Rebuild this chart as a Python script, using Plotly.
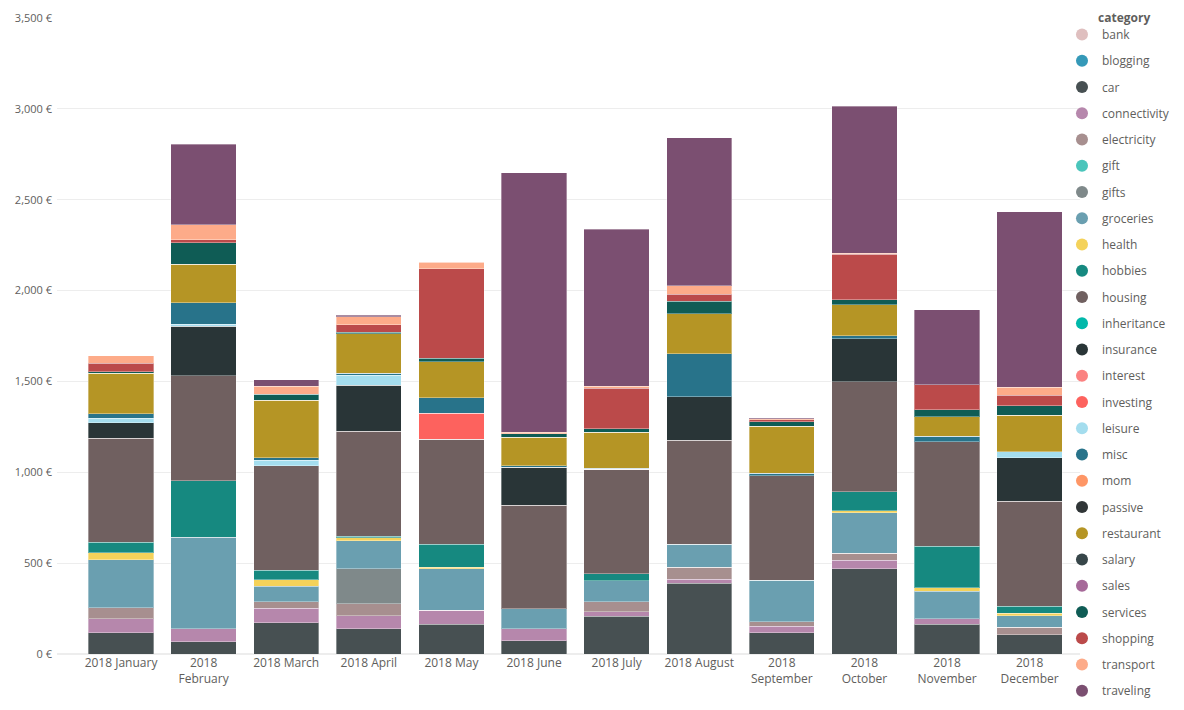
import plotly.graph_objects as go

# monthly spending per category (EUR)
months = ["2018 January", "2018 February", "2018 March", "2018 April", "2018 May", "2018 June",
          "2018 July", "2018 August", "2018 September", "2018 October", "2018 November", "2018 December"]
month_labels = ["2018 January", "2018<br>February", "2018 March", "2018 April", "2018 May", "2018 June",
                "2018 July", "2018 August", "2018<br>September", "2018<br>October", "2018<br>November",
                "2018<br>December"]

zero = [0] * 12
bank = zero
blogging = zero
car = [116, 67, 171, 138, 165, 73, 209, 389, 116, 470, 164, 107]
connectivity = [79, 73, 81, 73, 77, 67, 24, 23, 37, 46, 31, 0]
electricity = [59, 0, 35, 65, 0, 0, 54, 66, 25, 38, 0, 40]
gift = zero
gifts = [0, 0, 0, 194, 0, 0, 0, 0, 0, 0, 0, 0]
groceries = [266, 502, 85, 153, 228, 109, 116, 127, 229, 222, 150, 64]
health = [38, 0, 37, 16, 8, 0, 0, 0, 0, 13, 20, 13]
hobbies = [56, 312, 53, 10, 125, 0, 40, 0, 0, 103, 228, 39]
housing = [573, 576, 575, 576, 578, 570, 575, 571, 573, 606, 575, 578]
inheritance = zero
insurance = [85, 273, 0, 254, 0, 210, 0, 240, 0, 236, 0, 240]
interest = zero
investing = [0, 0, 0, 0, 145, 0, 0, 0, 0, 0, 0, 0]
leisure = [25, 12, 28, 55, 0, 0, 0, 0, 0, 0, 0, 33]
misc = [24, 119, 16, 10, 84, 7, 5, 237, 16, 18, 30, 0]
mom = zero
passive = zero
restaurant = [223, 210, 316, 219, 198, 158, 198, 220, 258, 169, 109, 200]
salary = zero
sales = zero
services = [8, 120, 33, 9, 20, 18, 18, 67, 23, 29, 38, 53]
shopping = [47, 15, 0, 39, 493, 0, 224, 39, 11, 251, 136, 58]
transport = [42, 83, 44, 44, 36, 9, 11, 47, 6, 4, 0, 43]
traveling = [0, 444, 34, 9, 0, 1427, 863, 816, 7, 810, 414, 967]

series = [
    ("bank", bank, "#DFBFBF"),
    ("blogging", blogging, "#3599B8"),
    ("car", car, "#475052"),
    ("connectivity", connectivity, "#B687AC"),
    ("electricity", electricity, "#A78F8F"),
    ("gift", gift, "#4AC5BB"),
    ("gifts", gifts, "#7F898A"),
    ("groceries", groceries, "#6A9FB0"),
    ("health", health, "#F4D25A"),
    ("hobbies", hobbies, "#168980"),
    ("housing", housing, "#706060"),
    ("inheritance", inheritance, "#01B8AA"),
    ("insurance", insurance, "#293537"),
    ("interest", interest, "#FB8281"),
    ("investing", investing, "#FD625E"),
    ("leisure", leisure, "#A4DDEE"),
    ("misc", misc, "#28738A"),
    ("mom", mom, "#FE9666"),
    ("passive", passive, "#303637"),
    ("restaurant", restaurant, "#B59525"),
    ("salary", salary, "#374649"),
    ("sales", sales, "#A66999"),
    ("services", services, "#0F5C55"),
    ("shopping", shopping, "#BB4A4A"),
    ("transport", transport, "#FDAB89"),
    ("traveling", traveling, "#7B4F71"),
]

fig = go.Figure()

for name, vals, color in series:
    fig.add_trace(go.Bar(
        x=months, y=vals, name=name, legendgroup=name,
        marker=dict(color=color, line=dict(color="rgba(255,255,255,0.35)", width=1)),
        showlegend=False,
        hovertemplate="%{x}<br>" + name + ": %{y} €<extra></extra>",
    ))
    # legend entry with a round marker, like the original
    fig.add_trace(go.Scatter(
        x=[None], y=[None], mode="markers", name=name, legendgroup=name,
        marker=dict(color=color, size=12, symbol="circle"),
        showlegend=True,
    ))

font_family = "Segoe UI, Open Sans, sans-serif"

top = 10  # px above the plot area
plot_h = 702 - top - 56

# page body has an 8px margin, so the figure is a bit smaller than the window
fig.update_layout(
    width=1176, height=702,
    barmode="stack",
    bargap=0.21,
    plot_bgcolor="white",
    paper_bgcolor="white",
    font=dict(family=font_family, size=12, color="#605E5C"),
    margin=dict(l=49, r=104, t=top, b=56, autoexpand=False),
    legend=dict(
        x=0.9824, xanchor="left", y=1 - (12 - top) / plot_h, yanchor="top",
        traceorder="grouped",
        tracegroupgap=7.25,
        itemwidth=30,
        font=dict(size=12, color="#605E5C"),
        bgcolor="rgba(0,0,0,0)",
        maxheight=720,
    ),
    xaxis=dict(
        tickvals=months, ticktext=month_labels,
        range=[-0.775, 11.61],
        showgrid=False, showline=False, ticks="",
        tickfont=dict(size=12, color="#605E5C"),
    ),
    yaxis=dict(
        range=[0, 3500], dtick=500,
        tickformat=",", ticksuffix=" €",
        showgrid=True, gridcolor="#EDEDED", gridwidth=1,
        zeroline=True, zerolinecolor="#EDEDED",
        ticks="", ticklabelstandoff=4,
        tickfont=dict(size=11, color="#605E5C"),
    ),
    annotations=[dict(
        text="<b>category</b>", xref="paper", yref="paper",
        x=1.0166, y=1 + top / plot_h, xanchor="left", yanchor="top",
        borderpad=0, showarrow=False, font=dict(size=12, color="#605E5C"),
    )],
)

fig.write_html("out.html")
